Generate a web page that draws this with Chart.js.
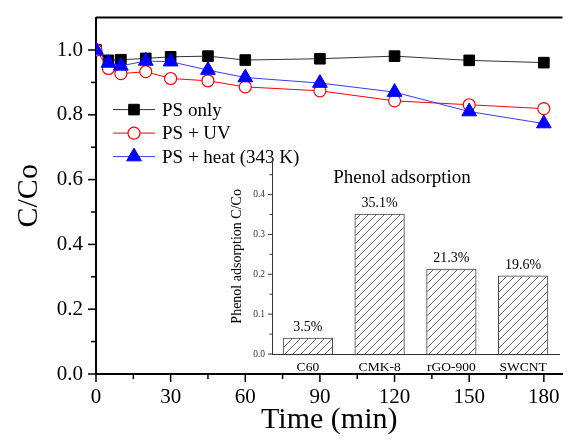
<!DOCTYPE html>
<html>
<head>
<meta charset="utf-8">
<script src="https://cdn.jsdelivr.net/npm/chart.js@4/dist/chart.umd.min.js"></script>
<style>
  body { margin: 0; background: #fff; }
  #wrap { position: relative; width: 572px; height: 442px; overflow: hidden; }
  #mainChart { position: absolute; left: 0; top: 0; }
  #insetChart { position: absolute; left: 225px; top: 150px; }
</style>
</head>
<body>
<div id="wrap">
  <canvas id="mainChart" width="572" height="442"></canvas>
  <canvas id="insetChart" width="347" height="230"></canvas>
</div>
<script>
// Datos principales (C/Co vs tiempo)
const tiempos = [0, 5, 10, 20, 30, 45, 60, 90, 120, 150, 180];
const psOnly = [1.0, 0.968, 0.970, 0.974, 0.979, 0.981, 0.969, 0.973, 0.981, 0.968, 0.961];
const psUV = [1.0, 0.943, 0.927, 0.933, 0.912, 0.905, 0.886, 0.874, 0.843, 0.831, 0.819];
const psHeat = [1.0, 0.960, 0.951, 0.966, 0.964, 0.938, 0.915, 0.898, 0.870, 0.810, 0.773];
const nombresSeries = ['PS only', 'PS + UV', 'PS + heat (343 K)'];

// Datos del inset (adsorcion de fenol)
const materiales = ['C60', 'CMK-8', 'rGO-900', 'SWCNT'];
const adsorcion = [0.041, 0.352, 0.214, 0.197];
const etiquetasAdsorcion = ['3.5%', '35.1%', '21.3%', '19.6%'];

const serif = 'Liberation Serif, Times New Roman, serif';

const toXY = (vals) => tiempos.map((t, i) => ({ x: t, y: vals[i] }));

// Ticks mayores y menores dibujados a mano
const tickPlugin = {
    id: 'ticksMarcas',
    afterDraw(chart, args, opts) {
        const ctx = chart.ctx;
        ctx.save();
        ctx.strokeStyle = opts.color || '#000';
        ctx.lineWidth = opts.width || 1.5;
        const xs = chart.scales.x, ys = chart.scales.y;
        if (opts.xTicks) {
            xs.ticks.forEach(t => {
                const px = xs.getPixelForValue(t.value);
                const len = opts.xMajor(t.value) ? opts.major : opts.minor;
                ctx.beginPath();
                ctx.moveTo(px, xs.top);
                ctx.lineTo(px, xs.top + len);
                ctx.stroke();
            });
        }
        ys.ticks.forEach(t => {
            if (t.value > opts.yLimit) return;
            const py = ys.getPixelForValue(t.value);
            const len = opts.yMajor(t.value) ? opts.major : opts.minor;
            ctx.beginPath();
            ctx.moveTo(ys.right, py);
            ctx.lineTo(ys.right - len, py);
            ctx.stroke();
        });
        if (opts.topBorder) {
            const a = chart.chartArea;
            ctx.lineWidth = 2;
            ctx.beginPath();
            ctx.moveTo(a.left, a.top);
            ctx.lineTo(a.right, a.top);
            ctx.stroke();
        }
        ctx.restore();
    }
};

// Leyenda con linea + marcador
const leyendaPlugin = {
    id: 'leyendaLinea',
    afterDraw(chart) {
        const ctx = chart.ctx;
        const a = chart.chartArea;
        const x0 = a.left + 17, x1 = a.left + 59, xm = a.left + 38;
        const y0 = a.top + 92, dy = 23.5;
        ctx.save();
        chart.data.datasets.forEach((ds, i) => {
            const y = y0 + i * dy;
            ctx.strokeStyle = ds.borderColor;
            ctx.lineWidth = 1;
            ctx.beginPath();
            ctx.moveTo(x0, y);
            ctx.lineTo(x1, y);
            ctx.stroke();
            ctx.fillStyle = ds.pointBackgroundColor;
            ctx.strokeStyle = ds.pointBorderColor;
            ctx.lineWidth = ds.pointBorderWidth;
            Chart.helpers.drawPoint(ctx, {
                pointStyle: ds.pointStyle,
                radius: ds.pointRadius,
                rotation: 0,
                borderWidth: ds.pointBorderWidth
            }, xm, y);
            ctx.font = '19px ' + serif;
            ctx.fillStyle = '#000';
            ctx.textBaseline = 'middle';
            ctx.fillText(nombresSeries[i], a.left + 66, y + 1);
        });
        ctx.restore();
    }
};

new Chart(document.getElementById('mainChart').getContext('2d'), {
    type: 'line',
    data: {
        datasets: [
            {
                label: nombresSeries[0],
                data: toXY(psOnly),
                borderColor: '#333333',
                borderWidth: 1,
                pointStyle: 'rect',
                pointRadius: 7.5,
                pointBackgroundColor: '#000',
                pointBorderColor: '#000',
                pointBorderWidth: 1,
                order: 2
            },
            {
                label: nombresSeries[1],
                data: toXY(psUV),
                borderColor: '#ff0000',
                borderWidth: 1,
                pointStyle: 'circle',
                pointRadius: 6,
                pointBackgroundColor: '#ffffff',
                pointBorderColor: '#ff0000',
                pointBorderWidth: 1.2,
                order: 1
            },
            {
                label: nombresSeries[2],
                data: toXY(psHeat),
                borderColor: '#3a3aff',
                borderWidth: 1,
                pointStyle: 'triangle',
                pointRadius: 8.5,
                pointBackgroundColor: '#0000ff',
                pointBorderColor: '#0000ff',
                pointBorderWidth: 1,
                order: 0
            }
        ]
    },
    options: {
        responsive: false,
        animation: false,
        devicePixelRatio: 1,
        layout: { padding: { top: 16, right: 0, left: 0, bottom: 0 } },
        plugins: {
            legend: { display: false },
            tooltip: { enabled: false },
            ticksMarcas: {
                xTicks: true,
                major: 8,
                minor: 5,
                width: 1.5,
                yLimit: 1.05,
                topBorder: true,
                xMajor: v => v % 30 === 0,
                yMajor: v => Math.round(v * 10) % 2 === 0
            }
        },
        scales: {
            x: {
                type: 'linear',
                min: 0,
                max: 187.5,
                afterFit: s => { s.height = 68; },
                grid: { display: false, drawTicks: true, tickLength: 8 },
                border: { color: '#000', width: 2 },
                ticks: {
                    stepSize: 15,
                    includeBounds: false,
                    autoSkip: false,
                    maxRotation: 0,
                    padding: 3,
                    color: '#000',
                    font: { family: serif, size: 21 },
                    callback: v => (v % 30 === 0 ? v : '')
                },
                title: {
                    display: true,
                    text: 'Time (min)',
                    color: '#000',
                    font: { family: serif, size: 30 },
                    padding: { top: 0, bottom: 4 }
                }
            },
            y: {
                min: 0,
                max: 1.1,
                afterFit: s => { s.width = 96; },
                grid: { display: false, drawTicks: true, tickLength: 8 },
                border: { color: '#000', width: 2 },
                ticks: {
                    stepSize: 0.1,
                    autoSkip: false,
                    padding: 5,
                    color: '#000',
                    font: { family: serif, size: 21 },
                    callback: v => (Math.round(v * 10) % 2 === 0 && v < 1.05 ? v.toFixed(1) : '')
                },
                title: {
                    display: true,
                    text: 'C/Co',
                    color: '#000',
                    font: { family: serif, size: 30 },
                    padding: { top: 11, bottom: 0 }
                }
            }
        }
    },
    plugins: [tickPlugin, leyendaPlugin]
});

// Patron rayado para las barras
function crearRayado() {
    const c = document.createElement('canvas');
    c.width = 8;
    c.height = 8;
    const g = c.getContext('2d');
    g.strokeStyle = '#555';
    g.lineWidth = 0.9;
    g.beginPath();
    g.moveTo(0, 8); g.lineTo(8, 0);
    g.moveTo(-2, 2); g.lineTo(2, -2);
    g.moveTo(6, 10); g.lineTo(10, 6);
    g.stroke();
    return g.createPattern(c, 'repeat');
}

const etiquetasPlugin = {
    id: 'etiquetasBarras',
    afterDatasetsDraw(chart) {
        const ctx = chart.ctx;
        const meta = chart.getDatasetMeta(0);
        ctx.save();
        ctx.fillStyle = '#000';
        ctx.textAlign = 'center';
        ctx.textBaseline = 'bottom';
        ctx.font = '14px ' + serif;
        meta.data.forEach((bar, i) => {
            ctx.fillText(etiquetasAdsorcion[i], bar.x, bar.y - 3);
        });
        // titulo del inset
        ctx.font = '19px ' + serif;
        ctx.textBaseline = 'middle';
        ctx.fillText('Phenol adsorption', 177, chart.chartArea.top + 19);
        ctx.restore();
    }
};

const ctxInset = document.getElementById('insetChart').getContext('2d');
new Chart(ctxInset, {
    type: 'bar',
    data: {
        labels: materiales,
        datasets: [{
            data: adsorcion,
            backgroundColor: crearRayado(),
            borderColor: '#444',
            borderWidth: 1,
            barPercentage: 0.7,
            categoryPercentage: 1
        }]
    },
    options: {
        responsive: false,
        animation: false,
        devicePixelRatio: 1,
        layout: { padding: { top: 7, right: 13, left: 0, bottom: 0 } },
        plugins: {
            legend: { display: false },
            tooltip: { enabled: false },
            ticksMarcas: {
                xTicks: false,
                major: 4,
                minor: 2.5,
                width: 1,
                color: '#333',
                yLimit: 0.5,
                yMajor: v => Math.round(v * 100) % 10 === 0
            }
        },
        scales: {
            x: {
                afterFit: s => { s.height = 26; },
                grid: { display: false, drawTicks: true, tickLength: 3 },
                border: { color: '#333', width: 1 },
                ticks: {
                    padding: 2,
                    color: '#000',
                    font: { family: serif, size: 13.5 }
                }
            },
            y: {
                min: 0,
                max: 0.49,
                afterFit: s => { s.width = 47; },
                grid: { display: false, drawTicks: true, tickLength: 4 },
                border: { color: '#333', width: 1 },
                ticks: {
                    stepSize: 0.05,
                    includeBounds: false,
                    autoSkip: false,
                    padding: 3,
                    color: '#333',
                    font: { family: serif, size: 9.5 },
                    callback: v => (Math.round(v * 100) % 10 === 0 ? v.toFixed(1) : '')
                },
                title: {
                    display: true,
                    text: 'Phenol adsorption C/Co',
                    color: '#000',
                    font: { family: serif, size: 14 },
                    padding: { top: 4, bottom: 0 }
                }
            }
        }
    },
    plugins: [tickPlugin, etiquetasPlugin]
});
</script>
</body>
</html>
